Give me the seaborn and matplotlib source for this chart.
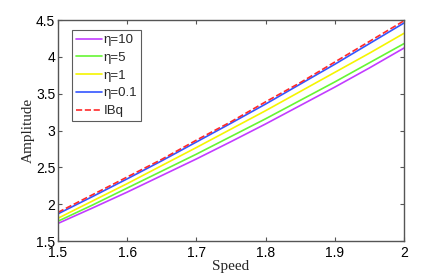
import numpy as np
import pandas as pd
import matplotlib
matplotlib.use("Agg")
import matplotlib.pyplot as plt
import seaborn as sns

speed = [1.50, 1.55, 1.60, 1.65, 1.70, 1.75, 1.80, 1.85, 1.90, 1.95, 2.00]
amp_eta10 = [1.74, 1.95, 2.165, 2.39, 2.615, 2.85, 3.09, 3.34, 3.59, 3.85, 4.12]
amp_eta5 = [1.77, 1.99, 2.22, 2.45, 2.68, 2.92, 3.16, 3.41, 3.66, 3.92, 4.18]
amp_eta1 = [1.81, 2.045, 2.28, 2.525, 2.77, 3.02, 3.27, 3.53, 3.79, 4.05, 4.32]
amp_eta01 = [1.87, 2.105, 2.345, 2.59, 2.845, 3.10, 3.36, 3.63, 3.90, 4.18, 4.46]
amp_ibq = [1.89, 2.13, 2.37, 2.61, 2.87, 3.12, 3.39, 3.65, 3.93, 4.21, 4.49]

series_labels = ["η=10", "η=5", "η=1", "η=0.1", "IBq"]
series_values = [amp_eta10, amp_eta5, amp_eta1, amp_eta01, amp_ibq]
colors = ["#c23cff", "#66f633", "#f5f500", "#3355ff", "#ff2a2a"]
styles = ["-", "-", "-", "-", "--"]

sns.set_style("white")
plt.rcParams["font.family"] = ["Liberation Sans", "DejaVu Sans"]

fig = plt.figure(figsize=(4.46, 2.74), dpi=100)
ax = fig.add_axes([0.130, 0.120, 0.776, 0.807])

for lab, vals, col, ls in zip(series_labels, series_values, colors, styles):
    df = pd.DataFrame({"Speed": speed, "Amplitude": vals})
    sns.lineplot(data=df, x="Speed", y="Amplitude", ax=ax, color=col,
                 linestyle=ls, linewidth=1.2, label=lab)

ax.set_xlim(1.5, 2.0)
ax.set_ylim(1.5, 4.5)
ax.set_xticks([1.5, 1.6, 1.7, 1.8, 1.9, 2.0])
ax.set_xticklabels(["1.5", "1.6", "1.7", "1.8", "1.9", "2"])
ax.set_yticks([1.5, 2, 2.5, 3, 3.5, 4, 4.5])
ax.set_yticklabels(["1.5", "2", "2.5", "3", "3.5", "4", "4.5"])
ax.tick_params(direction="in", length=3, width=0.8, colors="#555555",
               labelcolor="black", labelsize=10, top=True, right=True,
               bottom=True, left=True, pad=2)
ax.tick_params(axis="x", pad=3.5)
for sp in ax.spines.values():
    sp.set_color("#555555")
    sp.set_linewidth(1.0)

ax.set_xlabel("Speed", family=["Liberation Serif", "DejaVu Serif"], fontsize=11, labelpad=0)
ax.set_ylabel("Amplitude", family=["Liberation Serif", "DejaVu Serif"], fontsize=11, labelpad=1)

leg = ax.legend(loc="upper left", bbox_to_anchor=(0.040, 0.955), fontsize=9.5,
                frameon=True, fancybox=False, handlelength=2.0, handletextpad=0.1,
                borderpad=0.3, labelspacing=0.42, borderaxespad=0)
leg.get_frame().set_edgecolor("#333333")
leg.get_frame().set_linewidth(0.8)

fig.savefig("out.png", dpi=100)
